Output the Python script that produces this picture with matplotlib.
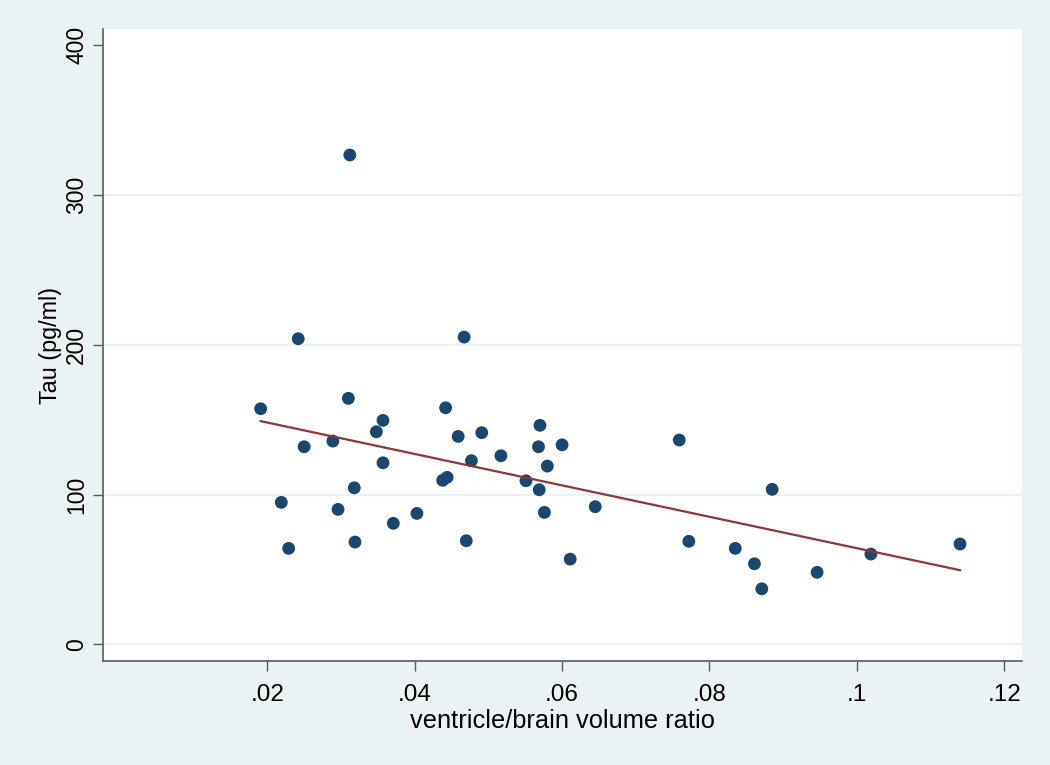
"""
Tau vs ventricle/brain volume ratio, scatter with linear fit (Stata s2color look).
"""

import numpy as np
import matplotlib
matplotlib.use("Agg")
import matplotlib.pyplot as plt

# -----------------------------
# Data
# -----------------------------
ratio = [
    0.0312, 0.0242, 0.0467, 0.0191, 0.0310, 0.0442, 0.0357, 0.0348,
    0.0289, 0.0250, 0.0357, 0.0459, 0.0491, 0.0570, 0.0568, 0.0600,
    0.0580, 0.0477, 0.0517, 0.0438, 0.0444, 0.0551, 0.0569, 0.0318,
    0.0219, 0.0296, 0.0403, 0.0371, 0.0576, 0.0645, 0.0229, 0.0319,
    0.0470, 0.0611, 0.0759, 0.0885, 0.0772, 0.0835, 0.0861, 0.0871,
    0.0946, 0.1019, 0.1140,
]
tau = [
    326.6, 204.0, 205.1, 157.3, 164.2, 157.9, 149.5, 141.9,
    135.7, 131.9, 121.2, 138.8, 141.3, 146.2, 131.9, 133.2,
    119.0, 122.6, 125.9, 109.5, 111.5, 109.2, 103.2, 104.5,
    94.8, 90.1, 87.4, 80.8, 88.1, 91.9, 64.1, 68.3,
    69.2, 56.9, 136.4, 103.5, 68.8, 64.1, 53.8, 37.1,
    48.1, 60.3, 67.0,
]

x_ticks = [0.02, 0.04, 0.06, 0.08, 0.10, 0.12]
x_tick_labels = [".02", ".04", ".06", ".08", ".1", ".12"]
y_ticks = [0, 100, 200, 300, 400]

bg_color = "#EAF2F3"
marker_color = "#1A476F"
line_color = "#90353B"
axis_color = "#5A5A5A"

plt.rcParams["font.family"] = ["Liberation Sans", "DejaVu Sans"]

fig = plt.figure(figsize=(10.5, 7.65), dpi=100)
fig.patch.set_facecolor(bg_color)
ax = fig.add_axes([0.0984, 0.1363, 0.8746, 0.8254])
ax.set_facecolor("white")

# Scatter
ax.scatter(ratio, tau, s=85, color=marker_color, edgecolors="none", zorder=3)

# Linear fit across the data range
x_arr = np.array(ratio)
slope, intercept = np.polyfit(x_arr, np.array(tau), 1)
fit_x = np.array([x_arr.min(), x_arr.max()])
ax.plot(fit_x, intercept + slope * fit_x, color=line_color, lw=1.6, zorder=4)

# Axes limits and ticks
ax.set_xlim(-0.00225, 0.12236)
ax.set_ylim(-10.9, 410.5)
ax.set_xticks(x_ticks)
ax.set_xticklabels(x_tick_labels)
ax.set_yticks(y_ticks)
ax.set_yticklabels([str(v) for v in y_ticks], rotation=90, va="center")

ax.tick_params(axis="both", direction="out", length=7, width=1.0,
               color=axis_color)
ax.tick_params(axis="x", labelsize=17.5, pad=9.5)
ax.tick_params(axis="y", labelsize=16.5, pad=4)

# Horizontal gridlines (none at the top tick)
ax.yaxis.grid(True, color=bg_color, lw=1.6)
ax.xaxis.grid(False)
ax.set_axisbelow(True)
ax.yaxis.get_gridlines()[-1].set_visible(False)

for side in ["top", "right"]:
    ax.spines[side].set_visible(False)
for side in ["left", "bottom"]:
    ax.spines[side].set_color(axis_color)
    ax.spines[side].set_linewidth(1.2)

ax.set_xlabel("ventricle/brain volume ratio", fontsize=18.3)
ax.set_ylabel("Tau (pg/ml)", fontsize=16.8)
ax.xaxis.set_label_coords(0.5, -0.076)
ax.yaxis.set_label_coords(-0.045, 0.5)

fig.savefig("out.png", dpi=100, facecolor=bg_color)
